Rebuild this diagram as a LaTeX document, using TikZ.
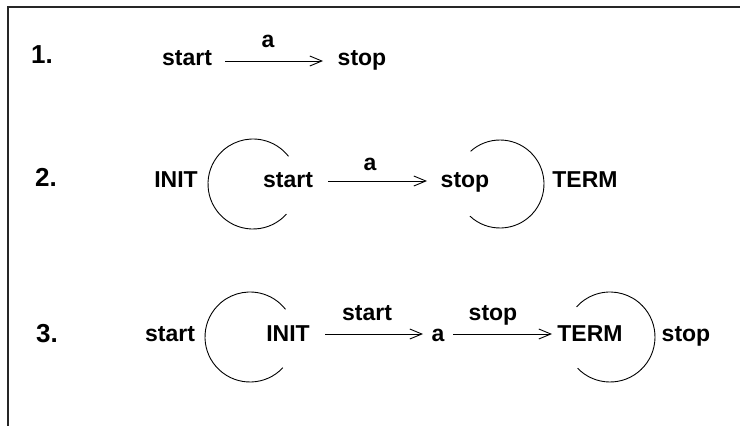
\documentclass[tikz,border=0pt]{standalone}
\usepackage{fontspec}
\setmainfont{Liberation Sans}
\usetikzlibrary{arrows.meta}
\begin{document}
\begin{tikzpicture}[x=1pt,y=-1pt,
  lbl/.style={font=\fontsize{23}{26}\selectfont\bfseries, inner sep=0pt, anchor=base},
  num/.style={font=\fontsize{26}{29}\selectfont\bfseries, inner sep=0pt, anchor=base west},
  trans/.style={line width=1pt, -{Straight Barb[length=12pt,width=10pt,line width=0.9pt]}, shorten >=1pt},
  loopline/.style={line width=0.9pt},
  frame/.style={line width=1.6pt, draw=black!85}]
\useasboundingbox (0,0) rectangle (740,426);
% frame on the top and left side
\draw[frame] (8,430) -- (8,7) -- (745,7);

% 1.
\node[num] (n1) at (31,63) {1.};
\node[lbl] (s1) at (187,65) {start};
\node[lbl] (t1) at (362,65) {stop};
\node[lbl] (l1) at (268,47) {a};
\coordinate (a1s) at (225,61);
\coordinate (a1e) at (324,61);
\draw[trans] (a1s) -- (a1e);

% 2.
\node[num] (n2) at (35,186) {2.};
\node[lbl] (i2) at (176,187) {INIT};
\node[lbl] (s2) at (288,187) {start};
\node[lbl] (l2) at (370,170) {a};
\node[lbl] (t2) at (465,187) {stop};
\node[lbl] (e2) at (585,187) {TERM};
\coordinate (a2s) at (328,181);
\coordinate (a2e) at (428,181);
\draw[trans] (a2s) -- (a2e);
\coordinate (c2l) at (253,184);
\coordinate (c2r) at (500,184);
\draw[loopline] (c2l) ++(42:45) arc[start angle=42, end angle=322, radius=45];
\draw[loopline] (c2r) ++(133:44) arc[start angle=133, end angle=-132, radius=44];

% 3.
\node[num] (n3) at (36,342) {3.};
\node[lbl] (s3) at (170,341) {start};
\node[lbl] (i3) at (288,341) {INIT};
\node[lbl] (l3a) at (367,320) {start};
\node[lbl] (a3) at (438,341) {a};
\node[lbl] (l3b) at (493,320) {stop};
\node[lbl] (e3) at (590,341) {TERM};
\node[lbl] (t3) at (686,341) {stop};
\coordinate (b1s) at (325,334);
\coordinate (b1e) at (424,334);
\coordinate (b2s) at (453,334);
\coordinate (b2e) at (553,334);
\draw[trans] (b1s) -- (b1e);
\draw[trans] (b2s) -- (b2e);
\coordinate (c3l) at (250,337);
\coordinate (c3r) at (610,337);
\draw[loopline] (c3l) ++(43:45) arc[start angle=43, end angle=322, radius=45];
\draw[loopline] (c3r) ++(136:45) arc[start angle=136, end angle=-138, radius=45];
\end{tikzpicture}
\end{document}
